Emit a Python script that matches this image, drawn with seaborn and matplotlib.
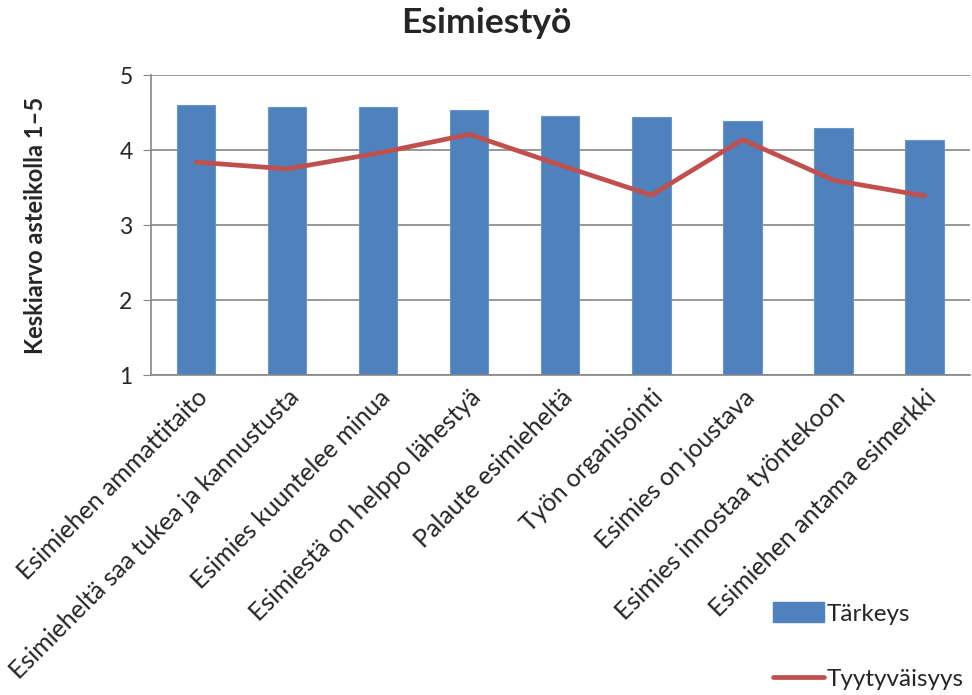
import numpy as np
import pandas as pd
import matplotlib.pyplot as plt
import seaborn as sns
from matplotlib.patches import Patch
from matplotlib.lines import Line2D

categories = ['Esimiehen ammattitaito', 'Esimieheltä saa tukea ja kannustusta',
              'Esimies kuuntelee minua', 'Esimiestä on helppo lähestyä',
              'Palaute esimieheltä', 'Työn organisointi', 'Esimies on joustava',
              'Esimies innostaa työntekoon', 'Esimiehen antama esimerkki']
tarkeys = [4.60, 4.58, 4.58, 4.54, 4.45, 4.44, 4.39, 4.30, 4.13]
tyytyvaisyys = [3.84, 3.75, 3.96, 4.21, 3.80, 3.40, 4.14, 3.60, 3.39]

df = pd.DataFrame({'Kysymys': categories, 'Tärkeys': tarkeys, 'Tyytyväisyys': tyytyvaisyys})

sns.set_style('white')
plt.rcParams['font.family'] = ['Lato', 'DejaVu Sans']

bar_color = '#4F81BD'
line_color = '#C0504D'
grid_color = '#868686'

f, a = plt.subplots(figsize=(9.72, 6.95), dpi=100)
plt.subplots_adjust(left=0.155, right=0.998, top=0.892, bottom=0.46)

# bars (bottom at 1, the axis minimum)
sns.barplot(data=df, x='Kysymys', y='Tärkeys', color=bar_color, width=0.42,
            saturation=1, ax=a, zorder=2, edgecolor='#6A95CC', linewidth=0.8)
# line on top
sns.lineplot(x=np.arange(len(categories)), y=df['Tyytyväisyys'], color=line_color,
             linewidth=3.4, ax=a, zorder=3, solid_capstyle='round')

a.set_ylim(1, 5)
a.set_xlim(-0.5, len(categories) - 0.5)
a.set_yticks([1, 2, 3, 4, 5])
a.yaxis.grid(True, color=grid_color, linewidth=1.2, zorder=0)
a.set_axisbelow(True)

for s in ['top', 'right']:
    a.spines[s].set_visible(False)
a.spines['left'].set_color(grid_color)
a.spines['bottom'].set_color(grid_color)
a.spines['left'].set_linewidth(1.2)
a.spines['bottom'].set_linewidth(1.2)

a.tick_params(axis='y', which='major', left=True, length=6, color=grid_color,
              labelsize=16.5, pad=7)
a.tick_params(axis='x', bottom=False, labelsize=18, pad=4)
a.set_xticks(range(len(categories)))
a.set_xticklabels(categories, rotation=45, ha='right', rotation_mode='anchor')

a.set_xlabel('')
a.set_ylabel('Keskiarvo asteikolla 1–5', fontsize=17, fontweight='bold', labelpad=52)

f.suptitle('Esimiestyö', fontsize=25.5, fontweight='bold', y=0.99)

handles = [Patch(facecolor=bar_color, edgecolor=bar_color),
           Line2D([0], [0], color=line_color, linewidth=3.4, solid_capstyle='round')]
f.legend(handles, ['Tärkeys', 'Tyytyväisyys'], loc='lower left',
         bbox_to_anchor=(0.783, -0.01), frameon=False, fontsize=17.5,
         labelspacing=1.75, handlelength=2.1, handletextpad=0.1, handleheight=0.9,
         borderaxespad=0.3, borderpad=0.2)

plt.savefig('out.png', dpi=100)
